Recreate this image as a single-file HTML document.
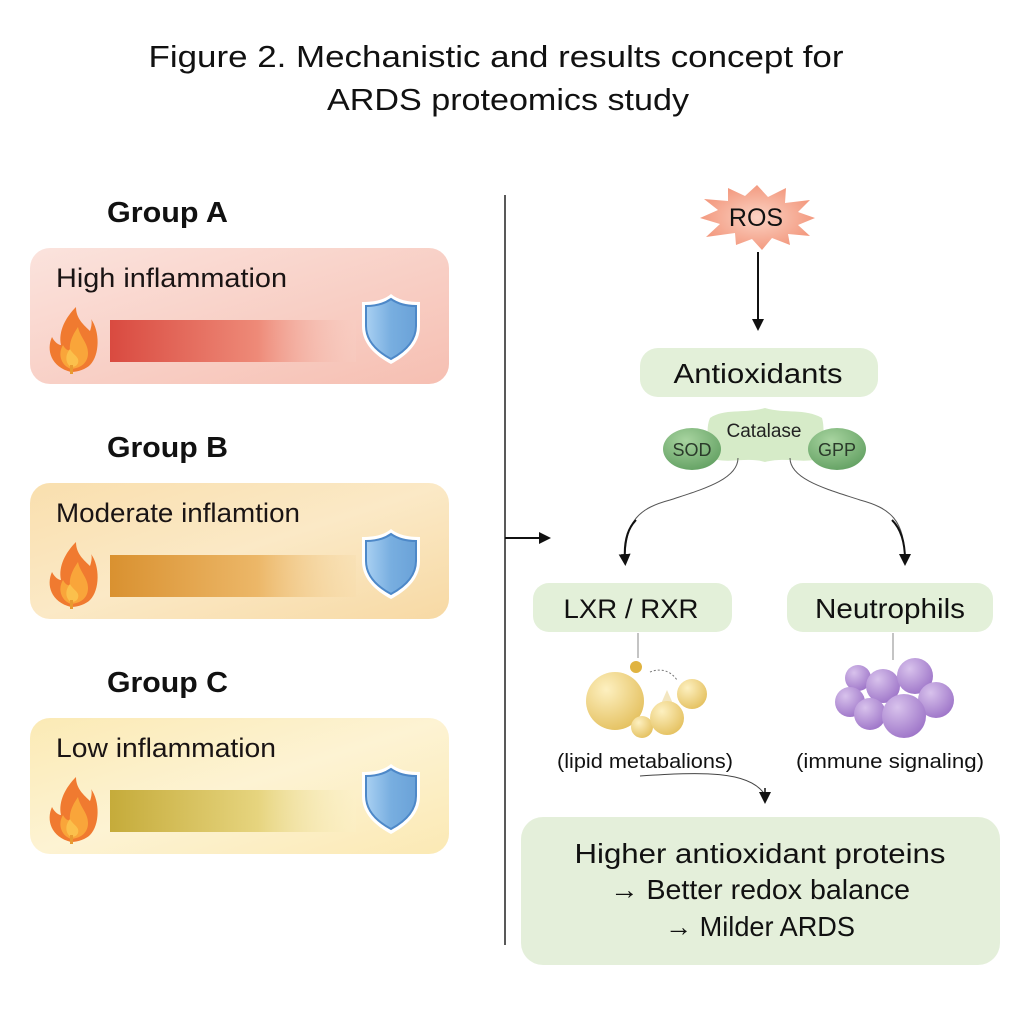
<!DOCTYPE html>
<html><head><meta charset="utf-8"><style>
html,body{margin:0;padding:0;background:#fff;}
svg{display:block;font-family:"Liberation Sans",sans-serif;}
</style></head><body>
<svg width="1024" height="1024" viewBox="0 0 1024 1024" xmlns="http://www.w3.org/2000/svg">
<defs>
<linearGradient id="bgA" x1="0" y1="0" x2="1" y2="1"><stop offset="0" stop-color="#fbe3dd"/><stop offset="1" stop-color="#f6bfb2"/></linearGradient>
<linearGradient id="bgB" x1="0" y1="0" x2="1" y2="1"><stop offset="0" stop-color="#f9dfae"/><stop offset="0.5" stop-color="#fbe9c6"/><stop offset="1" stop-color="#f7d9a4"/></linearGradient>
<linearGradient id="bgC" x1="0" y1="0" x2="1" y2="1"><stop offset="0" stop-color="#fbeab5"/><stop offset="0.5" stop-color="#fdf3d3"/><stop offset="1" stop-color="#fbe9b4"/></linearGradient>
<linearGradient id="barA"><stop offset="0" stop-color="#d94a40"/><stop offset="0.6" stop-color="#ee8a78"/><stop offset="1" stop-color="#f8cfc4" stop-opacity="0.3"/></linearGradient>
<linearGradient id="barB"><stop offset="0" stop-color="#d99130"/><stop offset="0.6" stop-color="#ecb768"/><stop offset="1" stop-color="#f6dba9" stop-opacity="0.3"/></linearGradient>
<linearGradient id="barC"><stop offset="0" stop-color="#c5ab3a"/><stop offset="0.6" stop-color="#e6d47e"/><stop offset="1" stop-color="#fbf1c8" stop-opacity="0.3"/></linearGradient>
<linearGradient id="shield" x1="0" x2="1"><stop offset="0" stop-color="#a9d0f2"/><stop offset="0.5" stop-color="#78aee0"/><stop offset="1" stop-color="#6aa2d8"/></linearGradient>
<radialGradient id="green" cx="0.4" cy="0.3" r="0.8"><stop offset="0" stop-color="#a8d4a0"/><stop offset="1" stop-color="#5e9d5e"/></radialGradient>
<radialGradient id="lip" cx="0.35" cy="0.3" r="0.8"><stop offset="0" stop-color="#fdf0c0"/><stop offset="1" stop-color="#e3be5a"/></radialGradient>
<radialGradient id="pur" cx="0.35" cy="0.3" r="0.8"><stop offset="0" stop-color="#d8c2ec"/><stop offset="1" stop-color="#9a70c6"/></radialGradient>
<radialGradient id="ros" cx="0.5" cy="0.5" r="0.5"><stop offset="0" stop-color="#fbd3c4"/><stop offset="1" stop-color="#f39a80"/></radialGradient>
<g id="flame">
<path d="M25 67 C5 62 0 45 6 32 C9 38 13 40 15 40 C12 26 20 12 30 2 C30 14 38 20 44 26 C46 20 46 16 45 14 C54 26 54 50 44 60 C40 64 32 67 25 67 Z" fill="#f07a30"/>
<path d="M25 64 C14 60 12 48 17 40 C19 44 22 46 24 45 C23 36 28 28 32 22 C34 32 42 38 42 48 C42 57 36 63 25 64 Z" fill="#f9a53a"/>
<path d="M25 62 C19 58 19 50 24 44 C27 50 34 52 32 58 C31 61 28 62 25 62 Z" fill="#fbc04c"/>
<rect x="24" y="60" width="3" height="9" fill="#e89a30"/>
</g>
<g id="sh">
<path d="M33 2 C26 8 16 10 4 10 L4 34 C4 52 18 64 33 72 C48 64 62 52 62 34 L62 10 C50 10 40 8 33 2 Z" fill="#fff"/>
<path d="M33 7 C26 12 17 14 8 14 L8 34 C8 50 20 60 33 67 C46 60 58 50 58 34 L58 14 C49 14 40 12 33 7 Z" fill="url(#shield)" stroke="#4d88c8" stroke-width="2"/>
</g>
<marker id="ah" viewBox="0 0 10 10" refX="5" refY="5" markerWidth="6" markerHeight="6" orient="auto"><path d="M0 0 L10 5 L0 10 Z" fill="#111"/></marker>
<marker id="ah2" viewBox="0 0 10 10" refX="5" refY="5" markerWidth="8" markerHeight="8" orient="auto"><path d="M0 0 L10 5 L0 10 Z" fill="#111"/></marker>
</defs>

<text x="496" y="67" font-size="31" text-anchor="middle" textLength="695" lengthAdjust="spacingAndGlyphs" fill="#111">Figure 2. Mechanistic and results concept for</text>
<text x="508" y="110" font-size="31" text-anchor="middle" textLength="362" lengthAdjust="spacingAndGlyphs" fill="#111">ARDS proteomics study</text>

<!-- Group A -->
<text x="107" y="222" font-size="29" font-weight="bold" fill="#111" textLength="121" lengthAdjust="spacingAndGlyphs">Group A</text>
<rect x="30" y="248" width="419" height="136" rx="20" fill="url(#bgA)"/>
<text x="56" y="287" font-size="27" fill="#1a1414" textLength="231" lengthAdjust="spacingAndGlyphs">High inflammation</text>
<rect x="110" y="320" width="246" height="42" fill="url(#barA)"/>
<use href="#flame" x="46" y="305"/>
<use href="#sh" x="358" y="292"/>

<!-- Group B -->
<text x="107" y="457" font-size="29" font-weight="bold" fill="#111" textLength="121" lengthAdjust="spacingAndGlyphs">Group B</text>
<rect x="30" y="483" width="419" height="136" rx="20" fill="url(#bgB)"/>
<text x="56" y="522" font-size="27" fill="#1a1414" textLength="244" lengthAdjust="spacingAndGlyphs">Moderate inflamtion</text>
<rect x="110" y="555" width="246" height="42" fill="url(#barB)"/>
<use href="#flame" x="46" y="540"/>
<use href="#sh" x="358" y="527"/>

<!-- Group C -->
<text x="107" y="692" font-size="29" font-weight="bold" fill="#111" textLength="121" lengthAdjust="spacingAndGlyphs">Group C</text>
<rect x="30" y="718" width="419" height="136" rx="20" fill="url(#bgC)"/>
<text x="56" y="757" font-size="27" fill="#1a1414" textLength="220" lengthAdjust="spacingAndGlyphs">Low inflammation</text>
<rect x="110" y="790" width="246" height="42" fill="url(#barC)"/>
<use href="#flame" x="46" y="775"/>
<use href="#sh" x="358" y="762"/>

<!-- divider -->
<line x1="505" y1="195" x2="505" y2="945" stroke="#222" stroke-width="1.5"/>
<line x1="505" y1="538" x2="545" y2="538" stroke="#111" stroke-width="2" marker-end="url(#ah)"/>

<!-- ROS -->
<polygon points="757,185 768,197 786,188 785,203 810,200 798,212 815,218 798,225 810,236 788,234 790,245 772,238 762,250 752,239 736,245 735,233 706,237 720,224 700,218 718,210 704,199 728,201 728,188 745,196" fill="url(#ros)"/>
<text x="756" y="226" font-size="25" text-anchor="middle" fill="#111">ROS</text>
<line x1="758" y1="252" x2="758" y2="325" stroke="#111" stroke-width="2" marker-end="url(#ah)"/>

<!-- Antioxidants -->
<rect x="640" y="348" width="238" height="49" rx="18" fill="#e3f0d9"/>
<text x="758" y="383" font-size="28" text-anchor="middle" fill="#111" textLength="169" lengthAdjust="spacingAndGlyphs">Antioxidants</text>
<path d="M710 418 C725 408 745 414 765 408 C785 414 805 408 822 418 C826 432 820 445 826 456 C805 466 790 456 765 462 C745 456 725 466 706 456 C712 445 704 432 710 418 Z" fill="#d6ebc8"/>
<text x="764" y="437" font-size="19" text-anchor="middle" fill="#222">Catalase</text>
<ellipse cx="692" cy="449" rx="29" ry="21" fill="url(#green)"/>
<text x="692" y="456" font-size="18" text-anchor="middle" fill="#2a3a2a">SOD</text>
<ellipse cx="837" cy="449" rx="29" ry="21" fill="url(#green)"/>
<text x="837" y="456" font-size="18" text-anchor="middle" fill="#2a3a2a">GPP</text>

<path d="M738 458 C738 480 700 490 670 500 C640 508 625 520 625 560" fill="none" stroke="#555" stroke-width="1"/>
<path d="M636 520 C626 530 624 545 625 560" fill="none" stroke="#111" stroke-width="2" marker-end="url(#ah)"/>
<path d="M790 458 C790 480 830 490 860 500 C890 508 905 520 905 560" fill="none" stroke="#555" stroke-width="1"/>
<path d="M892 520 C902 530 905 545 905 560" fill="none" stroke="#111" stroke-width="2" marker-end="url(#ah)"/>

<!-- LXR / Neutrophils -->
<rect x="533" y="583" width="199" height="49" rx="16" fill="#e3f0d9"/>
<text x="631" y="618" font-size="27" text-anchor="middle" fill="#111" textLength="135" lengthAdjust="spacingAndGlyphs">LXR / RXR</text>
<rect x="787" y="583" width="206" height="49" rx="16" fill="#e3f0d9"/>
<text x="890" y="618" font-size="28" text-anchor="middle" fill="#111" textLength="150" lengthAdjust="spacingAndGlyphs">Neutrophils</text>
<line x1="638" y1="633" x2="638" y2="658" stroke="#888" stroke-width="1"/>
<line x1="893" y1="633" x2="893" y2="660" stroke="#888" stroke-width="1"/>

<!-- lipids -->
<path d="M618 676 L612 690 L625 690 Z" fill="#f3e6c0"/>
<circle cx="615" cy="701" r="29" fill="url(#lip)"/>
<circle cx="636" cy="667" r="6" fill="#e0b340"/>
<circle cx="642" cy="727" r="11" fill="url(#lip)"/>
<path d="M667 690 L660 706 L674 706 Z" fill="#f3e6c0"/>
<circle cx="667" cy="718" r="17" fill="url(#lip)"/>
<circle cx="692" cy="694" r="15" fill="url(#lip)"/>
<path d="M650 672 C660 668 670 670 677 680" fill="none" stroke="#777" stroke-width="1" stroke-dasharray="2,2"/>

<!-- neutrophils -->
<circle cx="858" cy="678" r="13" fill="url(#pur)"/>
<circle cx="850" cy="702" r="15" fill="url(#pur)"/>
<circle cx="883" cy="686" r="17" fill="url(#pur)"/>
<circle cx="915" cy="676" r="18" fill="url(#pur)"/>
<circle cx="936" cy="700" r="18" fill="url(#pur)"/>
<circle cx="870" cy="714" r="16" fill="url(#pur)"/>
<circle cx="904" cy="716" r="22" fill="url(#pur)"/>

<text x="645" y="768" font-size="20" text-anchor="middle" fill="#111" textLength="176" lengthAdjust="spacingAndGlyphs">(lipid metabalions)</text>
<text x="890" y="768" font-size="20" text-anchor="middle" fill="#111" textLength="188" lengthAdjust="spacingAndGlyphs">(immune signaling)</text>
<path d="M640 776 C700 772 750 770 765 795" fill="none" stroke="#444" stroke-width="1"/>
<line x1="765" y1="788" x2="765" y2="798" stroke="#111" stroke-width="1.5" marker-end="url(#ah2)"/>

<!-- result box -->
<rect x="521" y="817" width="479" height="148" rx="22" fill="#e4efda"/>
<text x="760" y="863" font-size="28" text-anchor="middle" fill="#111" textLength="371" lengthAdjust="spacingAndGlyphs">Higher antioxidant proteins</text>
<text x="760" y="899" font-size="28" text-anchor="middle" fill="#111" textLength="300" lengthAdjust="spacingAndGlyphs">→ Better redox balance</text>
<text x="760" y="936" font-size="28" text-anchor="middle" fill="#111" textLength="190" lengthAdjust="spacingAndGlyphs">→ Milder ARDS</text>
</svg>
</body></html>
